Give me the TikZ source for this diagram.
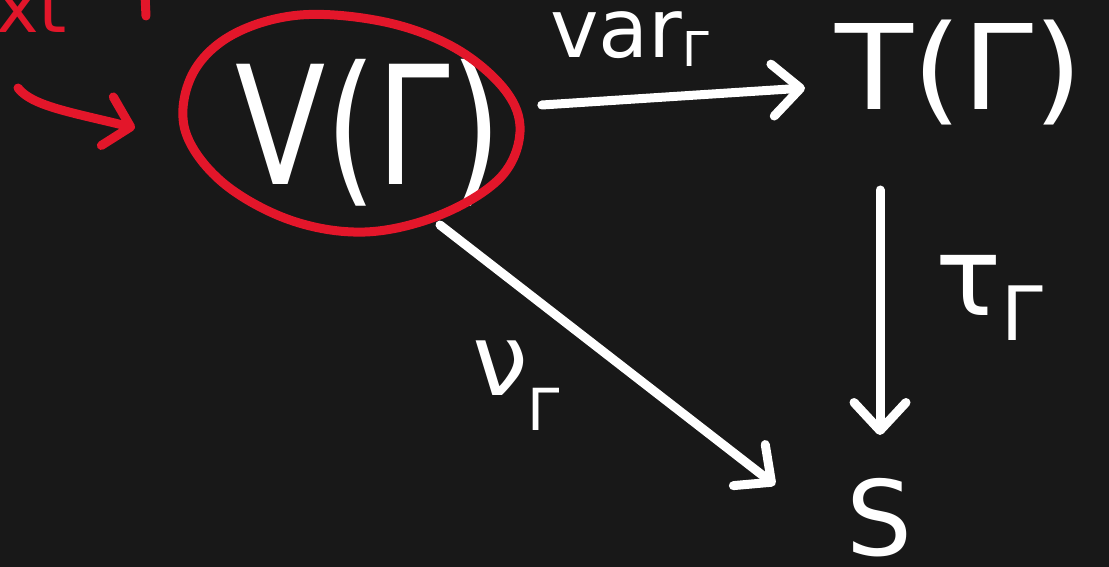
\documentclass[tikz,border=0pt]{standalone}
\usepackage{fontspec}
\setmainfont{DejaVu Sans}
\usetikzlibrary{arrows.meta,calc}
\definecolor{board}{HTML}{181818}
\definecolor{ink}{HTML}{FFFFFF}
\definecolor{redink}{HTML}{E3162A}
\newcommand{\fs}[1]{\fontsize{#1}{#1}\selectfont}
\tikzset{
  lbl/.style={inner sep=0pt, outer sep=0pt, text=ink, anchor=base west},
  arr/.style={draw=ink, line width=9pt, line cap=round, line join=round,
    -{Straight Barb[length=28pt,width=52pt,line cap=round,line join=round]}},
  redarr/.style={draw=redink, line width=9pt, line cap=round, line join=round,
    -{Straight Barb[length=24pt,width=50pt,line cap=round,line join=round]}},
}
\begin{document}
\begin{tikzpicture}[x=1pt,y=-1pt]
  \fill[board] (0,0) rectangle (1109,567);
  \useasboundingbox (0,0) rectangle (1109,567);
  \clip (0,0) rectangle (1109,567);

  % objects
  \node[lbl] (V) at (235,185) {\fs{165}\scalebox{0.8}[1]{V(Γ)}};
  \node[lbl] (T) at (835,110) {\fs{118}\scalebox{1.08}[1]{T(Γ)}};
  \node[lbl] (S) at (846,555) {\fs{104}S};

  % arrow labels
  \node[lbl] (var) at (550,58) {\fs{82}var\raisebox{-9pt}{\fs{48}Γ}};
  \node[lbl] (tau) at (935,315) {\fs{110}τ\raisebox{-25pt}{\fs{75}Γ}};
  \node[lbl] (nu) at (472,395) {\fs{100}ν\raisebox{-35pt}{\fs{58}Γ}};

  % morphisms
  \draw[arr] ($(V.base east)+(40,-80)$) -- ($(T.base west)+(-30,-22)$);
  \draw[arr] ($(T.base west)+(45,80)$) -- ($(S.base west)+(34,-120)$);
  \draw[arr] ($(V.base west)+(205,40)$) -- ($(S.base west)+(-71,-70)$);

  % red annotation: circled vertex set
  \draw[redink, line width=9pt, line cap=round, line join=round]
    plot[smooth cycle, tension=0.6] coordinates {
      (300,15) (385,22) (455,48) (505,90) (520,132) (500,178)
      (440,215) (365,232) (290,220) (222,182) (185,130) (192,75) (232,35)};
  \coordinate (c1) at (18,88);
  \draw[redarr] (c1) .. controls (32,106) and (70,112) .. ($(V.base west)+(-100,-57)$);

  % red text running off the top edge
  \node[lbl, text=redink] (ctx) at (-4,33) {\fs{72}xt};
  \coordinate (tk1) at (145,-5);
  \coordinate (tk2) at (146,16);
  \draw[redink, line width=9pt, line cap=round] (tk1) -- (tk2);
\end{tikzpicture}
\end{document}
